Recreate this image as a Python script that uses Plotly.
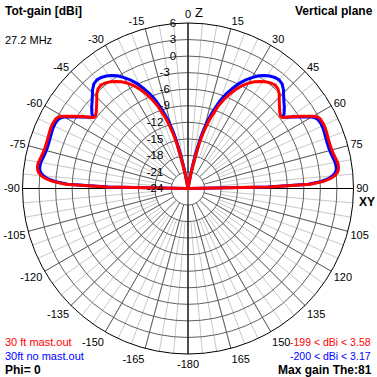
import plotly.graph_objects as go

# ---- data (elevation pattern, Phi = 0, symmetric about the Z axis) ----
theta_deg = [0, 10, 11, 12, 13, 14, 15, 16, 17, 18, 20, 22, 24, 26, 28, 30, 32, 34, 36, 38,
             40, 42, 44, 46, 48, 50, 52, 53, 54, 56, 58, 60, 61, 62, 64, 66, 68, 70, 72, 74,
             76, 78, 80, 81, 82, 83, 84, 85, 86, 87, 88, 89, 90]
red_gain = [-199, -26, -21.5, -19.5, -17.5, -15.6, -14.0, -12.6, -11.4, -10.3, -8.2, -6.6, -5.2, -3.9,
            -2.8, -1.9, -1.2, -0.6, -0.1, 0.3, 0.5, 0.35, -0.2, -1.0, -1.7, -2.3, -2.7, -2.6, -2.0,
            -0.7, 0.7, 2.2, 2.8, 3.05, 3.2, 3.2, 3.1, 3.0, 2.95, 2.95, 3.05, 3.25, 3.5, 3.58, 3.55,
            3.45, 3.2, 2.7, 1.9, 0.6, -1.8, -9.2, -199]
blue_gain = [-200, -24.5, -20.3, -18.3, -16.3, -14.4, -12.9, -11.5, -10.3, -9.2, -7.1, -5.5, -4.1, -2.8,
             -1.7, -0.8, 0.1, 0.7, 1.2, 1.55, 1.7, 1.5, 0.9, 0.1, -0.6, -1.2, -1.9, -2.4, -2.0,
             -0.8, 0.5, 1.9, 2.4, 2.65, 2.8, 2.8, 2.7, 2.6, 2.55, 2.55, 2.65, 2.85, 3.1, 3.17, 3.15,
             3.05, 2.8, 2.3, 1.5, 0.2, -2.2, -9.6, -200]

red_name = "30 ft mast.out"
blue_name = "30ft no mast.out"
red_range = "-199 < dBi < 3.58"
blue_range = "-200 < dBi < 3.17"

radial_ticks = [-24, -21, -18, -15, -12, -9, -6, -3, 0, 3, 6]
angle_ticks = list(range(0, 360, 15))
angle_labels = [str(a) if a < 180 else str(a - 360) for a in angle_ticks]

R_MIN, R_MAX = -24, 6
RED = "#ff0000"
BLUE = "#0000ff"
DARK = "#606060"
LIGHT = "#c8c8c8"
FONT = "Liberation Sans, Arial, sans-serif"
NBSP = "\u00a0"


def full_curve(gains):
    th = [-t for t in reversed(theta_deg[1:])] + theta_deg
    g = list(reversed(gains[1:])) + gains
    r = [max(v, R_MIN) for v in g]
    return th, r


def radial_label(v):
    # radial labels sit just left of the vertical axis: pad the centred text on the right
    s = str(v)
    w = sum(3.7 if c == "-" else 6.1 for c in s) + 4
    return s + NBSP * int(round(w / 3.05))


W = H = 377
cx, cy, R = 188, 188.5, 165.5
dom_x = [(cx - R) / W, (cx + R) / W]
dom_y = [1 - (cy + R) / H, 1 - (cy - R) / H]

fig = go.Figure()

# placeholder traces so the grid subplots are drawn
fig.add_trace(go.Scatterpolar(r=[6], theta=[0], mode="markers", marker=dict(opacity=0),
                              hoverinfo="skip", showlegend=False, subplot="polar"))
fig.add_trace(go.Scatterpolar(r=[6], theta=[0], mode="markers", marker=dict(opacity=0),
                              hoverinfo="skip", showlegend=False, subplot="polar2"))

# main axes through the centre
fig.add_trace(go.Scatterpolar(r=[R_MAX, R_MIN, R_MAX], theta=[0, 0, 180], mode="lines",
                              line=dict(color="black", width=1), hoverinfo="skip",
                              showlegend=False, subplot="polar3"))
fig.add_trace(go.Scatterpolar(r=[R_MAX, R_MIN, R_MAX], theta=[90, 90, -90], mode="lines",
                              line=dict(color="black", width=1), hoverinfo="skip",
                              showlegend=False, subplot="polar3"))

th_b, r_b = full_curve(blue_gain)
th_r, r_r = full_curve(red_gain)
fig.add_trace(go.Scatterpolar(r=r_b, theta=th_b, mode="lines", name=blue_name,
                              line=dict(color=BLUE, width=3), showlegend=False, subplot="polar3"))
fig.add_trace(go.Scatterpolar(r=r_r, theta=th_r, mode="lines", name=red_name,
                              line=dict(color=RED, width=3), showlegend=False, subplot="polar3"))

common_ang = dict(rotation=90, direction="clockwise", tickmode="linear", tick0=0)
hidden_rad = dict(showgrid=False, showticklabels=False, showline=False, ticks="")

fig.update_layout(
    width=W, height=H,
    margin=dict(l=0, r=0, t=0, b=0),
    paper_bgcolor="white",
    font=dict(family=FONT, size=11, color="black"),
    showlegend=False,
    polar=dict(
        domain=dict(x=dom_x, y=dom_y), bgcolor="white", hole=0.2,
        radialaxis=dict(range=[-18, R_MAX], **hidden_rad),
        angularaxis=dict(dtick=5, gridcolor=LIGHT, gridwidth=1, showline=False,
                         showticklabels=False, ticks="", **common_ang),
    ),
    polar2=dict(
        domain=dict(x=dom_x, y=dom_y), bgcolor="rgba(0,0,0,0)", hole=0.1,
        radialaxis=dict(range=[-21, R_MAX], **hidden_rad),
        angularaxis=dict(dtick=15, gridcolor=DARK, gridwidth=1, showline=False,
                         showticklabels=False, ticks="", **common_ang),
    ),
    polar3=dict(
        domain=dict(x=dom_x, y=dom_y), bgcolor="rgba(0,0,0,0)",
        radialaxis=dict(range=[R_MIN, R_MAX], tickmode="array", tickvals=radial_ticks,
                        ticktext=[radial_label(v) for v in radial_ticks],
                        showgrid=True, gridcolor=DARK, gridwidth=1, showline=False, ticks="",
                        angle=90, side="counterclockwise", tickangle=90,
                        tickfont=dict(family=FONT, size=11.5, color="black")),
        angularaxis=dict(rotation=90, direction="clockwise", tickmode="array",
                         tickvals=angle_ticks, ticktext=angle_labels,
                         showgrid=False, showline=True, linecolor="black", linewidth=1,
                         ticks="", tickfont=dict(family=FONT, size=11, color="black")),
    ),
)


def note(text, x, y, xanchor="left", color="black", bold=False, size=11):
    fig.add_annotation(text=f"<b>{text}</b>" if bold else text, x=x / W, y=1 - y / H,
                       xref="paper", yref="paper", xanchor=xanchor, yanchor="middle",
                       showarrow=False, font=dict(family=FONT, size=size, color=color))


note("Tot-gain [dBi]", 3, 11, bold=True, size=12)
note("27.2 MHz", 3, 40)
note("Vertical plane", 375, 11, xanchor="right", bold=True, size=12)
note("Z", 193, 12, size=13)
note("XY", 377, 202, xanchor="right", bold=True, size=12)
note(red_name, 3, 342, color=RED)
note(blue_name, 3, 356, color=BLUE)
note("Phi= 0", 3, 370, bold=True, size=12)
note(red_range, 373, 342, xanchor="right", color=RED, size=10.5)
note(blue_range, 373, 356, xanchor="right", color=BLUE, size=10.5)
note("Max gain The:81", 374, 370, xanchor="right", bold=True, size=12)

fig.write_html("out.html", config={"displayModeBar": False},
               post_script="document.body.style.margin='0';document.body.style.overflow='hidden';")
